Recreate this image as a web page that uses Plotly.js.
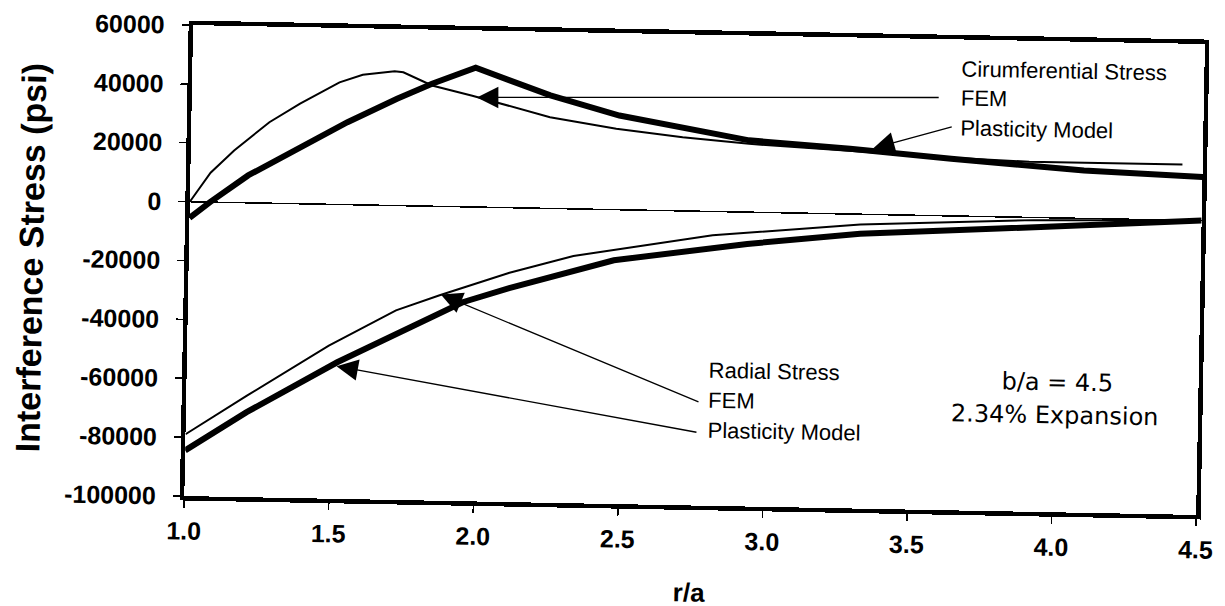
<!DOCTYPE html>
<html>
<head>
<meta charset="utf-8">
<script src="https://cdn.plot.ly/plotly-3.0.1.min.js"></script>
<style>
  html, body { margin: 0; padding: 0; background: #ffffff; }
  #chart { width: 1225px; height: 606px; transform: rotate(1.07deg); transform-origin: 612.5px 303px; }
</style>
</head>
<body>
<div id="chart"></div>
<script>
// ---- data ----
const circFemX  = [1.0, 1.07, 1.15, 1.27, 1.375, 1.51, 1.59, 1.70, 1.73, 1.83, 1.97, 2.24, 2.47, 2.70, 2.93, 3.3, 3.6, 3.9, 4.2, 4.43];
const circFemY  = [0, 10000, 17700, 27500, 34000, 41500, 44200, 45600, 45300, 41000, 37800, 31000, 27500, 25000, 23200, 21300, 19900, 18900, 18800, 18900];

const circPlasX = [1.0, 1.07, 1.2, 1.37, 1.54, 1.71, 1.83, 1.98, 2.24, 2.48, 2.93, 3.28, 3.63, 4.09, 4.5];
const circPlasY = [-5500, 0, 9300, 18700, 28000, 36300, 41600, 47300, 38400, 32000, 24400, 22200, 19400, 16300, 14800];

const radFemX   = [1.0, 1.21, 1.49, 1.72, 1.87, 2.11, 2.33, 2.81, 3.32, 3.7, 3.92, 4.2, 4.43];
const radFemY   = [-79000, -65500, -48000, -35600, -30200, -22100, -16000, -8100, -3500, -1800, -900, -400, -200];

const radPlasX  = [1.0, 1.21, 1.52, 1.78, 1.95, 2.11, 2.47, 2.93, 3.32, 3.8, 4.1, 4.5];
const radPlasY  = [-84500, -71100, -53600, -40600, -32400, -27300, -17200, -10800, -6600, -4000, -2300, 0];

const xTickVals = [1.0, 1.5, 2.0, 2.5, 3.0, 3.5, 4.0, 4.5];
const xTickText = ['1.0', '1.5', '2.0', '2.5', '3.0', '3.5', '4.0', '4.5'];
const yTickVals = [60000, 40000, 20000, 0, -20000, -40000, -60000, -80000, -100000];
const yTickText = ['60000', '40000', '20000', '0', '-20000', '-40000', '-60000', '-80000', '-100000'];

const xTitle = 'r/a';
const yTitle = 'Interference Stress (psi)';
const circLabels = ['Cirumferential Stress', 'FEM', 'Plasticity Model'];
const radLabels  = ['Radial Stress', 'FEM', 'Plasticity Model'];
const noteLines  = ['b/a = 4.5', '2.34% Expansion'];

// ---- drawing ----
const SANS = 'Liberation Sans, Arial, Helvetica, sans-serif';
const thin = {color: '#000', width: 2};
const thick = {color: '#000', width: 6};

const traces = [
  {x: circFemX, y: circFemY, mode: 'lines', line: thin, name: 'Circumferential FEM'},
  {x: circPlasX, y: circPlasY, mode: 'lines', line: thick, name: 'Circumferential Plasticity Model'},
  {x: radFemX, y: radFemY, mode: 'lines', line: thin, name: 'Radial FEM'},
  {x: radPlasX, y: radPlasY, mode: 'lines', line: thick, name: 'Radial Plasticity Model'}
];

const labelFont = {family: SANS, size: 22, color: '#000'};
const noteFont = {family: 'DejaVu Sans, sans-serif', size: 24, color: '#000'};

function textAnn(text, x, y, font, xanchor) {
  return {text: text, x: x, y: y, xref: 'x', yref: 'y', showarrow: false,
          xanchor: xanchor || 'left', yanchor: 'middle', font: font};
}
function arrowAnn(x, y, ax, ay) {
  return {text: '', x: x, y: y, ax: ax, ay: ay, xref: 'x', yref: 'y', axref: 'x', ayref: 'y',
          showarrow: true, arrowhead: 2, arrowsize: 3.3, arrowwidth: 1.3, arrowcolor: '#000', standoff: 0};
}

const annotations = [
  textAnn(circLabels[0], 3.652, 50150, labelFont),
  textAnn(circLabels[1], 3.653, 39960, labelFont),
  textAnn(circLabels[2], 3.652, 29770, labelFont),
  textAnn(radLabels[0], 2.80, -54040, labelFont),
  textAnn(radLabels[1], 2.80, -64230, labelFont),
  textAnn(radLabels[2], 2.80, -74420, labelFont),
  textAnn(noteLines[0], 4.011, -55800, noteFont, 'center'),
  textAnn(noteLines[1], 4.003, -67150, noteFont, 'center'),
  arrowAnn(1.986, 37240, 3.588, 40160),
  arrowAnn(3.359, 22430, 3.635, 30410),
  arrowAnn(1.874, -29920, 2.777, -64980),
  arrowAnn(1.518, -54920, 2.772, -75170)
];

const layout = {
  width: 1225, height: 606,
  margin: {l: 188, r: 25, t: 33, b: 102, pad: 0},
  paper_bgcolor: '#fff', plot_bgcolor: '#fff',
  showlegend: false,
  xaxis: {
    range: [1, 4.5], tickmode: 'array', tickvals: xTickVals, ticktext: xTickText,
    ticks: 'outside', ticklen: 7, tickwidth: 1.5, tickcolor: '#000',
    ticklabelstandoff: 2,
    showline: true, linewidth: 4.5, linecolor: '#000', mirror: true,
    showgrid: false, zeroline: false,
    tickfont: {family: SANS, size: 25, color: '#000', weight: 'bold'},
    title: {text: xTitle, font: {family: SANS, size: 26, color: '#000', weight: 'bold'}, standoff: 34}
  },
  yaxis: {
    range: [-100000, 60000], tickmode: 'array', tickvals: yTickVals, ticktext: yTickText,
    ticks: 'outside', ticklen: 7, tickwidth: 1.5, tickcolor: '#000',
    ticklabelstandoff: 12,
    showline: true, linewidth: 4.5, linecolor: '#000', mirror: true,
    showgrid: false, zeroline: true, zerolinecolor: '#000', zerolinewidth: 1.5,
    tickfont: {family: SANS, size: 25, color: '#000', weight: 'bold'},
    title: {text: yTitle, font: {family: SANS, size: 34, color: '#000', weight: 'bold'}, standoff: 16}
  },
  annotations: annotations
};

Plotly.newPlot('chart', traces, layout, {staticPlot: true, displayModeBar: false});
</script>
</body>
</html>
